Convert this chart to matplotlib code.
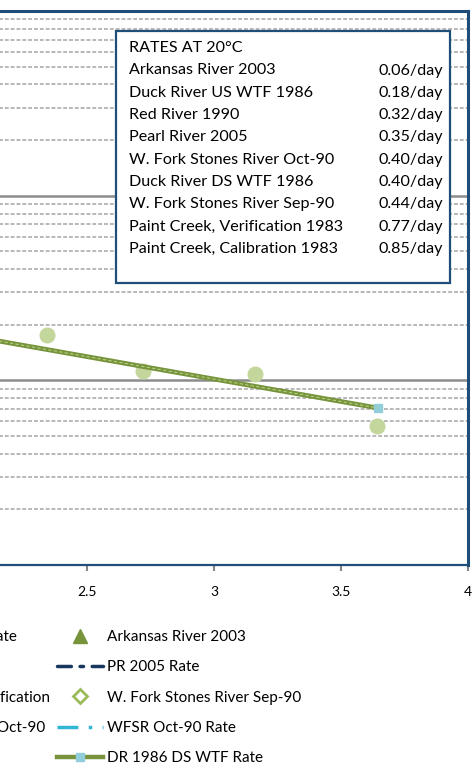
import matplotlib
matplotlib.use("Agg")
import matplotlib.pyplot as plt
from matplotlib.lines import Line2D
from matplotlib.patches import Rectangle
from matplotlib.ticker import LogLocator, NullFormatter

plt.rcParams['font.family'] = ['Lato', 'DejaVu Sans']

# observed data (visible part of the chart)
dr_ds_days = [2.34, 2.72, 3.16, 3.64]
dr_ds_vals = [17.6, 11.2, 10.8, 5.66]

# DR 1986 DS WTF fitted rate line
dr_rate_days = [0.0, 3.645]
dr_rate_vals = [54.3, 7.08]

# rates box
rates_title = "RATES AT 20°C"
rate_sites = ["Arkansas River 2003", "Duck River US WTF 1986", "Red River 1990",
              "Pearl River 2005", "W. Fork Stones River Oct-90", "Duck River DS WTF 1986",
              "W. Fork Stones River Sep-90", "Paint Creek, Verification 1983",
              "Paint Creek, Calibration 1983"]
rate_values = [0.06, 0.18, 0.32, 0.35, 0.40, 0.40, 0.44, 0.77, 0.85]

x_ticks = [2.5, 3, 3.5, 4]

W, H = 473, 776
DARK_BLUE = '#1F4E79'
GREEN = '#77933C'
LIGHT_GREEN = '#C3D69B'

fig = plt.figure(figsize=(W / 100, H / 100), dpi=100)
ax = fig.add_axes([-546.7 / W, 211 / H, 1014.7 / W, 554 / H])

ax.plot(dr_ds_days, dr_ds_vals, 'o', color=LIGHT_GREEN, markersize=10.5, zorder=3)
ax.plot(dr_rate_days, dr_rate_vals, '-', color=GREEN, lw=3.4, solid_capstyle='butt',
        marker='s', markevery=[1], markersize=5.5, markerfacecolor='#92CDDC',
        markeredgecolor='#92CDDC', zorder=4)
ax.plot(dr_rate_days, dr_rate_vals, color='#B3CD80', lw=0.8, ls=(0, (3, 2)), zorder=4)

ax.set_yscale('log')
ax.set_ylim(1, 1000)
ax.set_xlim(0, 4)
ax.set_xticks(x_ticks)
ax.set_xticklabels([f'{t:g}' for t in x_ticks])
ax.yaxis.set_minor_locator(LogLocator(base=10, subs=range(2, 10)))
ax.yaxis.set_minor_formatter(NullFormatter())
ax.tick_params(axis='y', which='both', left=False, labelleft=False)
ax.tick_params(axis='x', direction='out', length=4, width=1.5, color='#868686',
               labelsize=10, pad=11)

ax.grid(axis='y', which='major', color='#8C8C8C', lw=1.8, ls='-')
ax.grid(axis='y', which='minor', color='#B8B8B8', lw=1.4, ls=(0, (2, 1)))
ax.grid(axis='x', visible=False)
ax.set_axisbelow(True)

ax.spines['left'].set_visible(False)
for side in ['top', 'right']:
    ax.spines[side].set_color(DARK_BLUE)
    ax.spines[side].set_linewidth(2.2)
ax.spines['bottom'].set_color(DARK_BLUE)
ax.spines['bottom'].set_linewidth(1.6)

# rates text box
box = Rectangle((116 / W, 1 - 283 / H), 334 / W, 252 / H, transform=fig.transFigure,
                facecolor='white', edgecolor=DARK_BLUE, lw=1.6, zorder=5)
fig.add_artist(box)
fig.text(129 / W, 1 - 48 / H, rates_title, va='center', fontsize=11.6, zorder=6)
for i, (site, val) in enumerate(zip(rate_sites, rate_values)):
    y = 1 - (70.5 + i * 22.3) / H
    fig.text(129 / W, y, site, va='center', fontsize=11.6, zorder=6)
    fig.text(443 / W, y, f'{val:.2f}/day', va='center', ha='right', fontsize=11.6, zorder=6)

# legend (left part falls outside the picture)
handles = [
    Line2D([], [], color='#4F81BD', lw=2.5, ls='--'),
    Line2D([], [], color='#C0504D', marker='s', ls='none', markersize=8),
    Line2D([], [], color='#8064A2', marker='o', ls='none', markersize=8),
    Line2D([], [], color='#4BACC6', marker='^', ls='none', markersize=8),
    Line2D([], [], color=LIGHT_GREEN, marker='o', ls='none', markersize=9),
    Line2D([], [], color=GREEN, marker='^', ls='none', markersize=10),
    Line2D([], [], color='#17375E', lw=2.5, ls=(0, (4, 2.5, 1, 2.5)), dash_capstyle='round'),
    Line2D([], [], color='#9BBB59', marker='D', ls='none', markersize=7,
           markerfacecolor='white', markeredgewidth=2),
    Line2D([], [], color='#31B6D6', lw=2.5, ls=(0, (6, 3, 1, 3))),
    Line2D([], [], color=GREEN, lw=3.2, marker='s', markersize=5.5,
           markerfacecolor='#92CDDC', markeredgecolor='#92CDDC'),
]
labels = ["PC 1983 Calibrated Rate", "Red River 1990", "Paint Creek 1983 Verification",
          "W. Fork Stones River Oct-90", "Duck River DS 1986",
          "Arkansas River 2003", "PR 2005 Rate", "W. Fork Stones River Sep-90",
          "WFSR Oct-90 Rate", "DR 1986 DS WTF Rate"]

leg = fig.legend(handles, labels, ncol=2, loc='upper left', bbox_to_anchor=(0, 0.2),
                 bbox_transform=fig.transFigure, frameon=False, fontsize=11,
                 handlelength=3.0, handletextpad=0.27, columnspacing=0.45,
                 labelspacing=1.07, borderpad=0, numpoints=1)
fig.canvas.draw()
bb = leg.get_texts()[5].get_window_extent()
dx = 107 - bb.x0
dy = (H - 637) - (bb.y0 + bb.y1) / 2
leg.set_bbox_to_anchor((dx / W, 0.2 + dy / H), transform=fig.transFigure)

fig.savefig('out.png', dpi=100)
